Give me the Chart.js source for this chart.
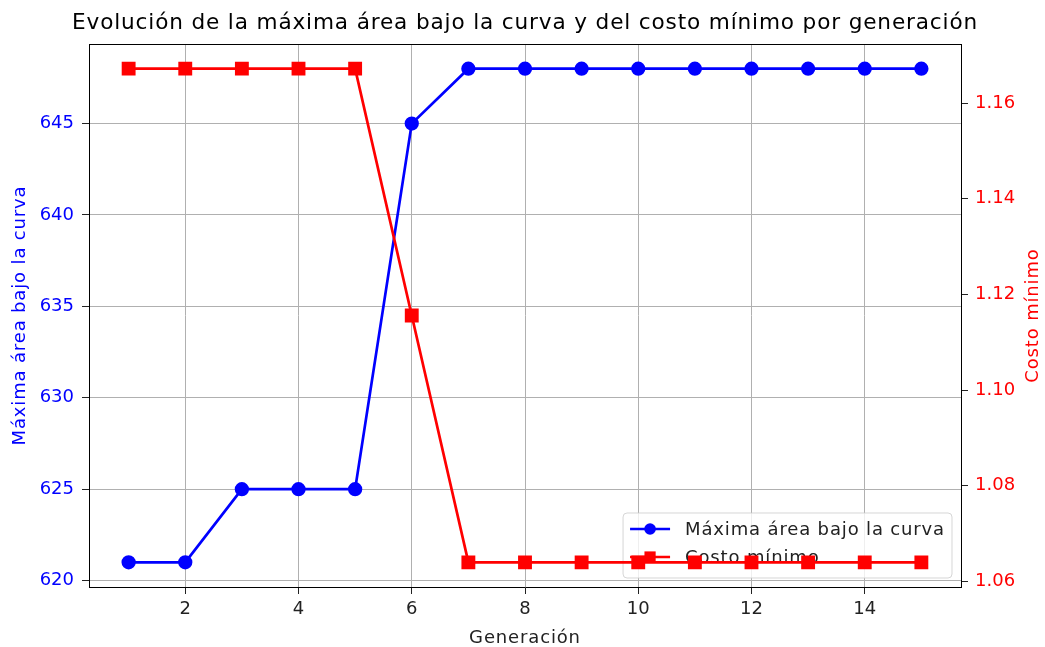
<!DOCTYPE html>
<html>
<head>
<meta charset="utf-8">
<script src="https://cdn.jsdelivr.net/npm/chart.js@4/dist/chart.umd.min.js"></script>
<style>
    html, body { margin: 0; padding: 0; background: #fff; }
</style>
</head>
<body>
<canvas id="myChart" width="1045" height="647"></canvas>
<script>
var generaciones = [1, 2, 3, 4, 5, 6, 7, 8, 9, 10, 11, 12, 13, 14, 15];
var maxArea = [621, 621, 625, 625, 625, 645, 648, 648, 648, 648, 648, 648, 648, 648, 648];
var costoMin = [1.1672, 1.1672, 1.1672, 1.1672, 1.1672, 1.1156, 1.0640, 1.0640, 1.0640, 1.0640, 1.0640, 1.0640, 1.0640, 1.0640, 1.0640];

var ticksX = [2, 4, 6, 8, 10, 12, 14];
var ticksArea = [620, 625, 630, 635, 640, 645];
var ticksCosto = [1.06, 1.08, 1.10, 1.12, 1.14, 1.16];

var titulo = 'Evolución de la máxima área bajo la curva y del costo mínimo por generación';
var lblX = 'Generación';
var lblArea = 'Máxima área bajo la curva';
var lblCosto = 'Costo mínimo';

var fuente = 'DejaVu Sans';
var espaciado = '0.85px';
Chart.defaults.font.family = fuente;
Chart.defaults.font.size = 18;
Chart.defaults.color = '#222';

function puntos(ys) {
    return generaciones.map(function(g, i) { return { x: g, y: ys[i] }; });
}

function texto(ctx, t, x, y, size, color, rot, base) {
    ctx.save();
    ctx.translate(x, y);
    if (rot) ctx.rotate(rot);
    ctx.font = size + 'px "' + fuente + '"';
    ctx.letterSpacing = espaciado;
    ctx.fillStyle = color;
    ctx.textAlign = 'center';
    ctx.textBaseline = base || 'middle';
    ctx.fillText(t, 0, 0);
    ctx.restore();
}

// leyenda dentro del grafico, abajo a la derecha (bajo la linea roja)
var leyendaPlugin = {
    id: 'leyenda',
    afterDatasetDraw: function(chart, args) {
        if (args.index !== 0) return;
        var ctx = chart.ctx;
        var area = chart.chartArea;
        ctx.save();
        ctx.font = '18px "' + fuente + '"';
        ctx.letterSpacing = espaciado;
        var tw = Math.max(ctx.measureText(lblArea).width, ctx.measureText(lblCosto).width);
        var w = 7 + 36 + 19 + tw + 7;
        var h = 65;
        var x0 = area.right - 9 - w;
        var y0 = area.bottom - 9 - h;
        ctx.beginPath();
        ctx.roundRect(x0, y0, w, h, 4);
        ctx.fillStyle = 'rgba(255,255,255,0.8)';
        ctx.fill();
        ctx.strokeStyle = 'rgba(204,204,204,0.8)';
        ctx.lineWidth = 1;
        ctx.stroke();

        var items = [
            { txt: lblArea, color: '#0000ff', forma: 'circle' },
            { txt: lblCosto, color: '#ff0000', forma: 'rect' }
        ];
        items.forEach(function(it, i) {
            var cy = y0 + 16 + i * 28;
            var lx = x0 + 7;
            ctx.strokeStyle = it.color;
            ctx.fillStyle = it.color;
            ctx.lineWidth = 2.7;
            ctx.beginPath();
            ctx.moveTo(lx, cy);
            ctx.lineTo(lx + 40, cy);
            ctx.stroke();
            if (it.forma == 'circle') {
                ctx.beginPath();
                ctx.arc(lx + 20, cy, 5.8, 0, Math.PI * 2);
                ctx.fill();
            } else {
                ctx.fillRect(lx + 20 - 5.6, cy - 5.6, 11.2, 11.2);
            }
            ctx.fillStyle = '#222';
            ctx.textBaseline = 'middle';
            ctx.textAlign = 'left';
            ctx.fillText(it.txt, lx + 55, cy + 1);
        });
        ctx.restore();
    }
};

// borde superior y titulos
var bordePlugin = {
    id: 'borde',
    afterDraw: function(chart) {
        var ctx = chart.ctx;
        var a = chart.chartArea;
        ctx.save();
        ctx.strokeStyle = '#000';
        ctx.lineWidth = 1;
        ctx.beginPath();
        ctx.moveTo(a.left, a.top + 0.5);
        ctx.lineTo(a.right, a.top + 0.5);
        ctx.stroke();
        ctx.restore();

        var cx = (a.left + a.right) / 2;
        var cy = (a.top + a.bottom) / 2;
        texto(ctx, titulo, cx, a.top - 15, 21.6, '#000', 0, 'alphabetic');
        texto(ctx, lblX, cx, chart.height - 4, 18, '#222', 0, 'alphabetic');
        texto(ctx, lblArea, 20, cy, 18, '#0000ff', -Math.PI / 2);
        texto(ctx, lblCosto, chart.width - 12, cy, 18, '#ff0000', -Math.PI / 2);
    }
};

var ctx = document.getElementById('myChart').getContext('2d');
var myChart = new Chart(ctx, {
    type: 'line',
    data: {
        datasets: [{
            label: lblArea,
            data: puntos(maxArea),
            yAxisID: 'y',
            borderColor: '#0000ff',
            backgroundColor: '#0000ff',
            borderWidth: 2.7,
            pointStyle: 'circle',
            pointRadius: 5.8,
            pointHoverRadius: 5.8,
            order: 2
        }, {
            label: lblCosto,
            data: puntos(costoMin),
            yAxisID: 'y1',
            borderColor: '#ff0000',
            backgroundColor: '#ff0000',
            borderWidth: 2.7,
            pointStyle: 'rect',
            pointRadius: 7.9,
            pointHoverRadius: 7.9,
            order: 1
        }]
    },
    options: {
        responsive: false,
        animation: false,
        devicePixelRatio: 1,
        layout: { padding: { top: 44 } },
        plugins: {
            legend: { display: false },
            tooltip: { enabled: false },
            title: { display: false }
        },
        scales: {
            x: {
                type: 'linear',
                min: 0.3,
                max: 15.7,
                afterBuildTicks: function(s) { s.ticks = ticksX.map(function(v) { return { value: v }; }); },
                afterFit: function(s) { s.height = 60; },
                ticks: { padding: 5, color: '#222', maxRotation: 0 },
                grid: { color: '#b0b0b0', lineWidth: 1, tickColor: '#222', tickLength: 7 },
                border: { color: '#000', width: 1 }
            },
            y: {
                type: 'linear',
                position: 'left',
                min: 619.65,
                max: 649.35,
                afterBuildTicks: function(s) { s.ticks = ticksArea.map(function(v) { return { value: v }; }); },
                afterFit: function(s) { s.width = 89; },
                ticks: { padding: 8, color: '#0000ff' },
                grid: { color: '#b0b0b0', lineWidth: 1, tickColor: '#222', tickLength: 7 },
                border: { color: '#000', width: 1 }
            },
            y1: {
                type: 'linear',
                position: 'right',
                min: 1.05884,
                max: 1.17236,
                afterBuildTicks: function(s) { s.ticks = ticksCosto.map(function(v) { return { value: v }; }); },
                afterFit: function(s) { s.width = 84; },
                ticks: {
                    padding: 7,
                    color: '#ff0000',
                    callback: function(v) { return v.toFixed(2); }
                },
                grid: { drawOnChartArea: false, tickColor: '#222', tickLength: 7 },
                border: { color: '#000', width: 1 }
            }
        }
    },
    plugins: [leyendaPlugin, bordePlugin]
});
</script>
</body>
</html>
